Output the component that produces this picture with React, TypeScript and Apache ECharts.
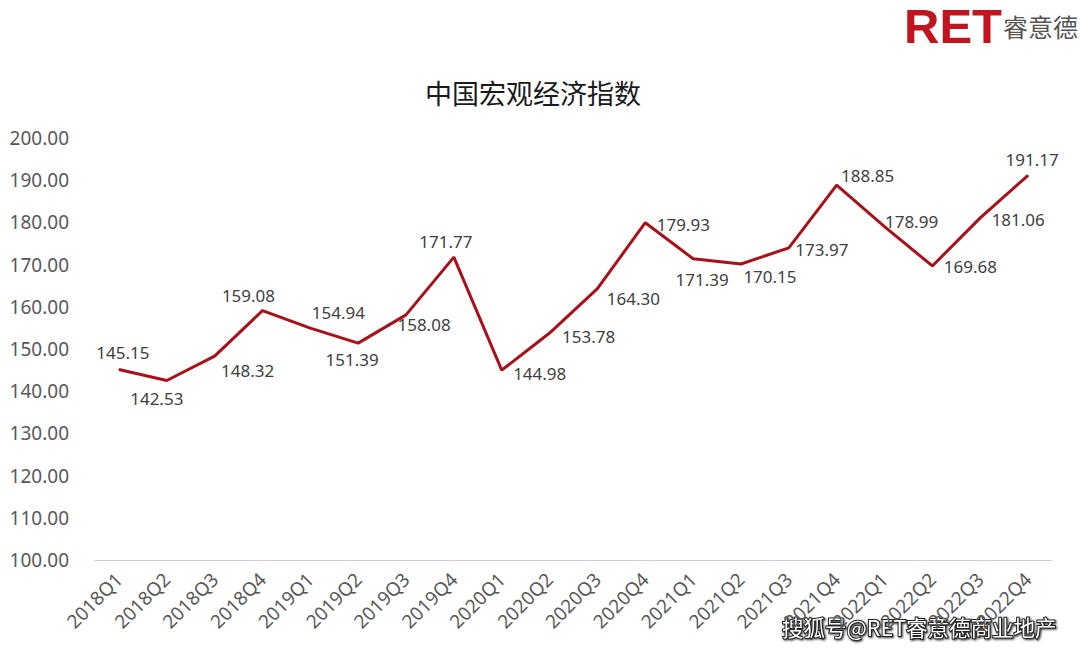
import React, { useEffect, useRef } from "react";
import * as echarts from "echarts";

const categories = [
  "2018Q1", "2018Q2", "2018Q3", "2018Q4",
  "2019Q1", "2019Q2", "2019Q3", "2019Q4",
  "2020Q1", "2020Q2", "2020Q3", "2020Q4",
  "2021Q1", "2021Q2", "2021Q3", "2021Q4",
  "2022Q1", "2022Q2", "2022Q3", "2022Q4",
];

const indexValues = [
  145.15, 142.53, 148.32, 159.08,
  154.94, 151.39, 158.08, 171.77,
  144.98, 153.78, 164.30, 179.93,
  171.39, 170.15, 173.97, 188.85,
  178.99, 169.68, 181.06, 191.17,
];

// label centre offsets from each point (pixels), styling only
const labelOffsets: [number, number][] = [
  [4, -17], [-10, 18], [33, 14], [-14, -15],
  [28, -16], [-6, 16], [18, 10], [-8, -16],
  [38, 3], [39, 3], [36, 10], [38, 2],
  [9, 21], [29, 13], [33, 2], [31, -10],
  [27, -5], [38, 1], [38, 2], [4, -16],
];

const FONT = "'Noto Sans', 'Noto Sans CJK SC', sans-serif";

export default function App() {
  const ref = useRef<HTMLDivElement>(null);
  useEffect(() => {
    if (!ref.current) return;
    const chart = echarts.init(ref.current, null, { renderer: "svg" });
    chart.setOption({
      animation: false,
      backgroundColor: "#ffffff",
      title: {
        text: "中国宏观经济指数",
        left: 528,
        top: 75,
        textAlign: "center",
        textStyle: { fontFamily: FONT, fontSize: 27, fontWeight: "normal", color: "#1a1a1a" },
      },
      grid: { left: 95, right: 28, top: 138, bottom: 91, containLabel: false },
      xAxis: {
        type: "category",
        data: categories,
        boundaryGap: true,
        axisLine: { show: true, lineStyle: { color: "#d0d0d0", width: 1 } },
        axisTick: { show: false },
        axisLabel: {
          rotate: 45,
          color: "#595959",
          fontSize: 19,
          fontFamily: FONT,
          margin: 16,
          interval: 0,
        },
        splitLine: { show: false },
      },
      yAxis: {
        type: "value",
        min: 100,
        max: 200,
        interval: 10,
        axisLine: { show: false },
        axisTick: { show: false },
        splitLine: { show: false },
        axisLabel: {
          formatter: (v: number) => v.toFixed(2),
          color: "#595959",
          fontSize: 19,
          fontFamily: FONT,
          margin: 26,
        },
      },
      series: [
        {
          type: "line",
          data: indexValues.map((v, i) => ({
            value: v,
            label: { offset: labelOffsets[i] },
          })),
          symbol: "circle",
          symbolSize: 1,
          itemStyle: { color: "#a8101a" },
          lineStyle: { color: "#a8101a", width: 3 },
          label: {
            show: true,
            position: "inside",
            formatter: (p: any) => Number(p.value).toFixed(2),
            color: "#404040",
            fontSize: 17,
            fontFamily: FONT,
          },
        },
      ],
      graphic: [
        {
          type: "text",
          left: 904,
          top: 1,
          style: {
            text: "RET",
            fontSize: 49,
            fontWeight: "bold",
            fontFamily: "'Liberation Sans', Arial, sans-serif",
            fill: "#c0141f",
          },
        },
        {
          type: "text",
          left: 1003,
          top: 13,
          style: {
            text: "睿意德",
            fontSize: 25,
            fontFamily: "'Noto Sans CJK SC', sans-serif",
            fill: "#555555",
          },
        },
        {
          type: "text",
          left: 781,
          top: 615,
          style: {
            text: "搜狐号@RET睿意德商业地产",
            fontSize: 21.5,
            fontFamily: "'Noto Sans CJK SC', sans-serif",
            fill: "#ffffff",
            stroke: "#222222",
            lineWidth: 2,
            textShadowColor: "rgba(0,0,0,0.8)",
            textShadowBlur: 2,
            textShadowOffsetX: 1,
            textShadowOffsetY: 1,
          },
        },
      ],
    });
    return () => chart.dispose();
  }, []);
  return <div ref={ref} style={{ width: 1080, height: 651, position: "absolute", left: 0, top: 0 }} />;
}
